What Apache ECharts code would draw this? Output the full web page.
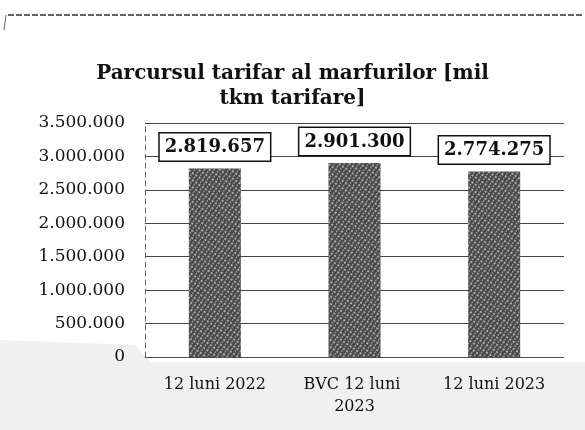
<!DOCTYPE html>
<html><head><meta charset="utf-8">
<script src="https://cdn.jsdelivr.net/npm/echarts@6/dist/echarts.min.js"></script>
<style>html,body{margin:0;padding:0;background:#fff}#c{width:585px;height:430px}</style>
</head><body><div id="c"></div>
<script>
const categories = ["12 luni 2022", "BVC 12 luni 2023", "12 luni 2023"];
const values = [2819657, 2901300, 2774275];
const yTicks = [0, 500000, 1000000, 1500000, 2000000, 2500000, 3000000, 3500000];
const titleText = "Parcursul tarifar al marfurilor [mil\ntkm tarifare]";

function fmt(v){ return String(Math.round(v)).replace(/\B(?=(\d{3})+(?!\d))/g, "."); }

const chart = echarts.init(document.getElementById('c'), null, {renderer:'canvas'});
chart.setOption({
  backgroundColor: '#fff',
  animation: false,
  aria: {decal: {show: false}},
  graphic: [
    {type:'polygon', silent:true, z:-10, shape:{points:[[0,340],[135,345],[150,362],[585,362],[585,430],[0,430]]}, style:{fill:'#f0f0f0'}},
    {type:'line', silent:true, shape:{x1:8,y1:15,x2:582,y2:15}, style:{stroke:'#333', lineWidth:1.5, lineDash:[6,2]}},
    {type:'line', silent:true, shape:{x1:6,y1:15,x2:4,y2:30}, style:{stroke:'#666', lineWidth:1}}
  ],
  title: {
    text: titleText, left: 'center', top: 56,
    textStyle: {fontFamily:'DejaVu Serif', fontWeight:'bold', fontSize:20, lineHeight:25, color:'#111'}
  },
  grid: {left:145, right:21, top:123, bottom:73},
  xAxis: {
    type:'category', data: categories,
    axisTick:{show:false},
    axisLine:{show:true, lineStyle:{color:'#555', type:[2,5], width:1}},
    axisLabel:{interval:0, margin:17, width:135, overflow:'break', fontFamily:'DejaVu Serif', fontSize:16, lineHeight:22, color:'#111'}
  },
  yAxis: {
    type:'value', min: yTicks[0], max: yTicks[yTicks.length-1], interval: yTicks[1]-yTicks[0],
    axisLine:{show:true, lineStyle:{color:'#666', type:[5,4], width:1}},
    axisTick:{show:false},
    splitLine:{show:true, lineStyle:{color:'#444', width:1}},
    axisLabel:{margin:20, formatter: fmt, fontFamily:'DejaVu Serif', fontSize:17, color:'#111'}
  },
  series: [{
    type:'bar', data: values, barWidth:52,
    itemStyle:{color:'#4a4a4a', decal:{symbol:'rect', symbolSize:0.9, color:'rgba(255,255,255,0.6)', dashArrayX:[[2,2],[1,3]], dashArrayY:[2,1], rotation:0.6}},
    label:{show:true, position:'top', distance:8, formatter: p => fmt(p.value),
      fontFamily:'DejaVu Serif', fontWeight:'bold', fontSize:18, color:'#111',
      backgroundColor:'#fff', borderColor:'#111', borderWidth:1.5, padding:[5,5,4,5]}
  }]
});
</script></body></html>
